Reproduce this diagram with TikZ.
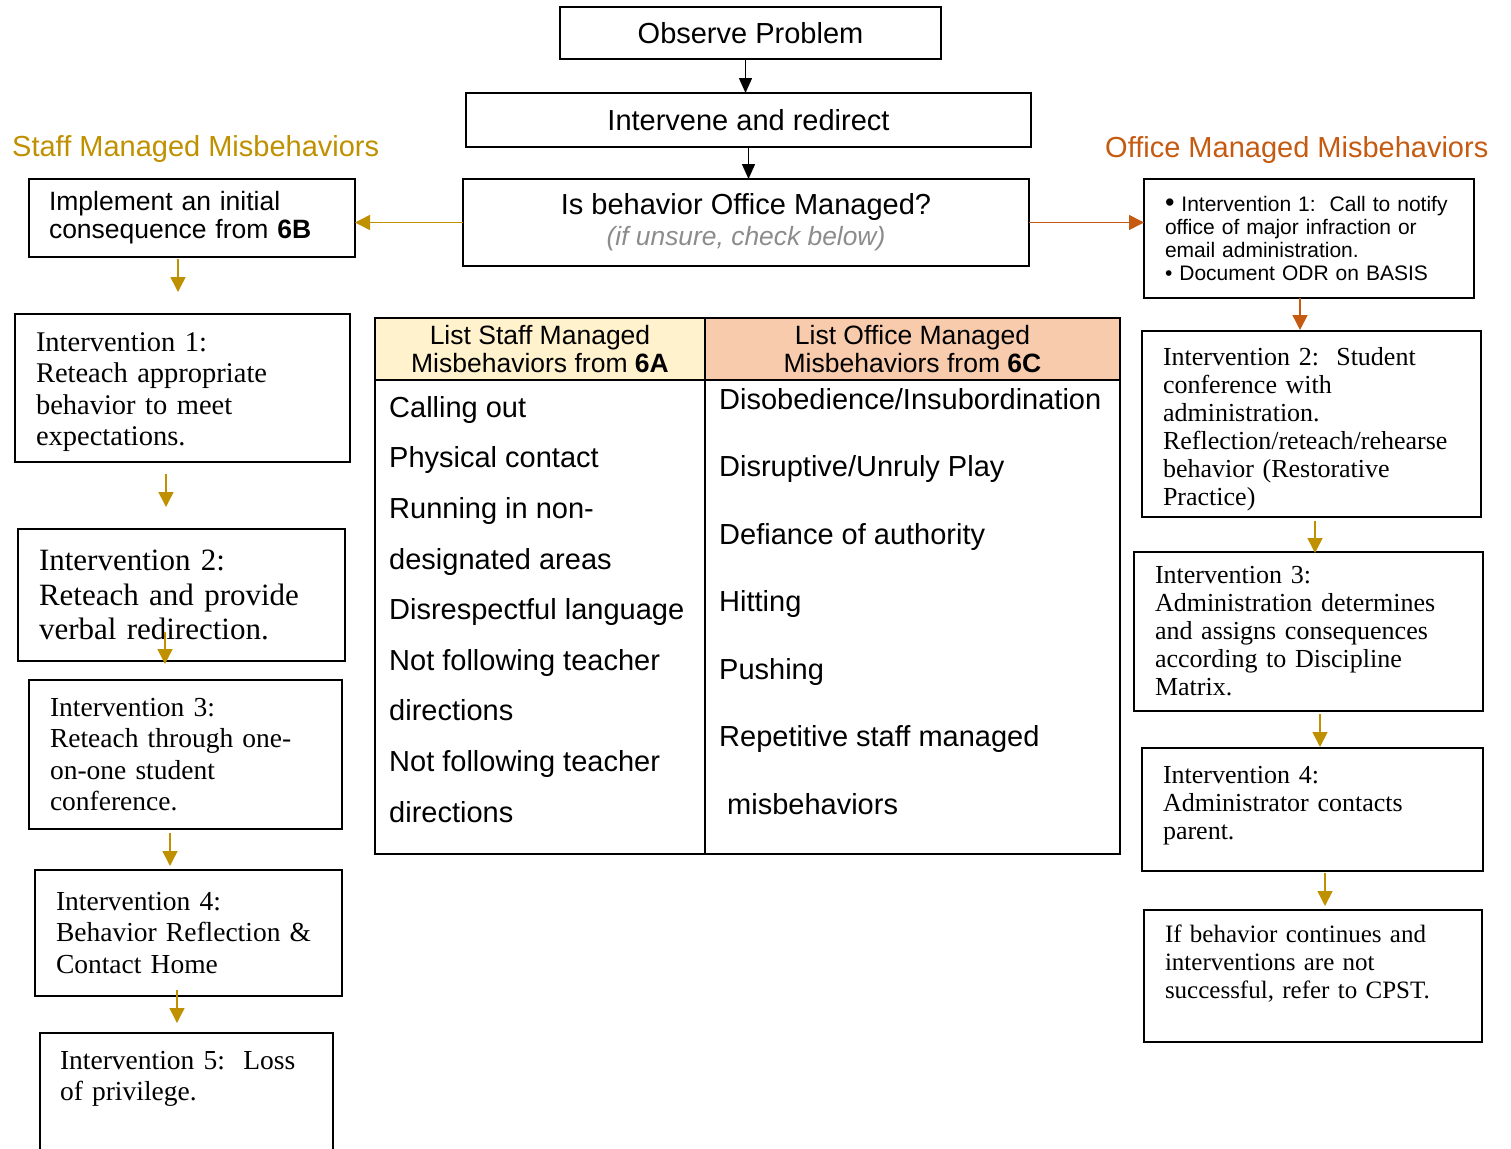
\documentclass[tikz,border=0pt]{standalone}
\usepackage{fontspec}
\setmainfont{Liberation Serif}
\setsansfont{Liberation Sans}
\usepackage{tikz}
\usetikzlibrary{arrows.meta}

\definecolor{staffgold}{HTML}{BF9000}
\definecolor{officeorange}{HTML}{C55A11}
\definecolor{staffhead}{HTML}{FFF2CC}
\definecolor{officehead}{HTML}{F8CBAD}
\definecolor{hintgray}{HTML}{8C8C8C}

\begin{document}
\begin{tikzpicture}[
        x=1pt, y=1pt,
        topbox/.style={draw, line width=1.8pt, anchor=north west, outer sep=0pt, inner sep=0pt, align=center, font=\sffamily\fontsize{29}{32}\selectfont},
        stepbox/.style={draw, line width=1.8pt, anchor=north west, outer sep=0pt, inner xsep=21pt, inner ysep=0pt, align=left},
        leftfont/.style={font=\fontsize{28.5}{31.5}\selectfont},
        narrowfont/.style={font=\fontsize{27.5}{31.5}\selectfont},
        rightfont/.style={font=\fontsize{26}{28}\selectfont},
        cell/.style={draw, line width=1.8pt, anchor=north west, outer sep=0pt, inner sep=0pt},
        headtext/.style={align=center, font=\sffamily\fontsize{26.5}{28}\selectfont},
        itemlist/.style={anchor=north west, inner sep=0pt, align=left},
        heading/.style={anchor=base west, inner sep=0pt, font=\sffamily\fontsize{29}{33}\selectfont},
        blackarrow/.style={-{Triangle[width=13pt,length=15pt]}, line width=1.5pt},
        goldarrow/.style={-{Triangle[width=15pt,length=15pt]}, draw=staffgold, fill=staffgold, line width=1.5pt},
        orangearrow/.style={-{Triangle[width=15pt,length=15pt]}, draw=officeorange, fill=officeorange, line width=1.5pt}
    ]
    \useasboundingbox (0,0) rectangle (1511,-1148);

    % --- Top of the flow ---
    \node[topbox, minimum width=381, minimum height=52] (obs) at (560,-7) {Observe Problem};
    \node[topbox, minimum width=565, minimum height=54] (int) at (466,-93) {Intervene and redirect};
    \node[topbox, minimum width=566, minimum height=87] (ask) at (463,-179)
        {Is behavior Office Managed?\\[-1pt]
         {\fontsize{26.4}{28}\selectfont\itshape\color{hintgray}(if unsure, check below)}};

    \draw[blackarrow] ([xshift=-5pt]obs.south) -- ([xshift=-3pt]int.north);
    \draw[blackarrow] (int.south) -- (int.south |- ask.north);

    % --- Headings ---
    \node[heading, text=staffgold] (staffttl) at (12,-156) {Staff Managed Misbehaviors};
    \node[heading, text=officeorange] (officettl) at (1105,-157) {Office Managed Misbehaviors};

    % --- Staff managed column ---
    \node[stepbox, inner xsep=20pt, text width=286, minimum height=78, font=\sffamily\fontsize{26.5}{28}\selectfont] (impl) at (29,-179)
        {Implement an initial\\consequence from \textbf{6B}};
    \node[stepbox, leftfont, text width=293, minimum height=148] (l1) at (15,-314)
        {\mbox{}\\[-4.8pt]Intervention 1:\\Reteach appropriate\\behavior to meet\\expectations.};
    \node[stepbox, font=\fontsize{31}{34.5}\selectfont, text width=285, minimum height=132] (l2) at (18,-529)
        {Intervention 2:\\Reteach and provide\\verbal redirection.};
    \node[stepbox, narrowfont, text width=271, minimum height=149] (l3) at (29,-680)
        {Intervention 3:\\Reteach through one-\\on-one student\\conference.};
    \node[stepbox, narrowfont, text width=265, minimum height=126] (l4) at (35,-870)
        {Intervention 4:\\Behavior Reflection \&\\Contact Home};
    \node[stepbox, narrowfont, inner xsep=20pt, text width=253, minimum height=117] (l5) at (40,-1033)
        {Intervention 5:\ \ Loss\\of privilege.\\\mbox{}};

    \draw[goldarrow] (ask.west) -- (impl.east |- ask.west);
    \draw[goldarrow] ([xshift=-14pt,yshift=-2pt]impl.south) -- ++(0,-33);
    \draw[goldarrow] ([xshift=-16.5pt,yshift=-12pt]l1.south) -- ++(0,-33);
    \draw[goldarrow] ([xshift=-16.5pt,yshift=29pt]l2.south) -- ++(0,-32);
    \draw[goldarrow] ([xshift=-15.5pt,yshift=-4pt]l3.south) -- ++(0,-33);
    \draw[goldarrow] ([xshift=-11.5pt,yshift=6pt]l4.south) -- ++(0,-33);

    % --- Office managed column ---
    \node[stepbox, text width=288, minimum height=119, font=\sffamily\fontsize{21}{22.7}\selectfont] (o1) at (1144,-179)
        {{\fontsize{27}{22.7}\selectfont\textbullet}\ Intervention 1:\ \ Call to notify\\office of major infraction or\\email administration.\\\textbullet\ Document ODR on BASIS};
    \node[stepbox, rightfont, text width=297, minimum height=186] (o2) at (1142,-331)
        {\mbox{}\\Intervention 2:\ \ Student\\conference with\\administration.\\Reflection/reteach/rehearse\\behavior (Restorative\\Practice)};
    \node[stepbox, rightfont, text width=307, minimum height=159] (o3) at (1134,-552)
        {Intervention 3:\\Administration determines\\and assigns consequences\\according to Discipline\\Matrix.};
    \node[stepbox, rightfont, text width=299, minimum height=123] (o4) at (1142,-748)
        {Intervention 4:\\Administrator contacts\\parent.\\[-14pt]\mbox{}};
    \node[stepbox, font=\fontsize{25}{28}\selectfont, text width=296, minimum height=132] (o5) at (1144,-910)
        {If behavior continues and\\interventions are not\\successful, refer to CPST.\\\mbox{}};

    \draw[orangearrow] (ask.east) -- (o1.west |- ask.east);
    \draw[orangearrow] ([xshift=-9pt]o1.south) -- ++(0,-32);
    \draw[goldarrow] ([xshift=3.5pt,yshift=-4pt]o2.south) -- ++(0,-32);
    \draw[goldarrow] ([xshift=11.5pt,yshift=-3pt]o3.south) -- ++(0,-33);
    \draw[goldarrow] ([xshift=12.5pt,yshift=-2pt]o4.south) -- ++(0,-33);

    % --- Table of misbehaviors ---
    \node[cell, fill=staffhead, minimum width=330, minimum height=62] (stafftop) at (375,-318) {};
    \node[cell, fill=officehead, minimum width=415, minimum height=62] (officetop) at (705,-318) {};
    \node[cell, minimum width=330, minimum height=474] (staffcol) at (375,-380) {};
    \node[cell, minimum width=415, minimum height=474] (officecol) at (705,-380) {};

    \node[headtext] (staffhd) at (stafftop) {List Staff Managed\\Misbehaviors from \textbf{6A}};
    \node[headtext] (officehd) at (officetop) {List Office Managed\\Misbehaviors from \textbf{6C}};

    \node[itemlist, font=\sffamily\fontsize{29}{50.6}\selectfont] (stafflist) at (389,-396)
        {Calling out\\Physical contact\\Running in non-\\designated areas\\Disrespectful language\\Not following teacher\\directions\\Not following teacher\\directions};
    \node[itemlist, font=\sffamily\fontsize{29}{67.5}\selectfont] (officelist) at (719,-388)
        {Disobedience/Insubordination\\Disruptive/Unruly Play\\Defiance of authority\\Hitting\\Pushing\\Repetitive staff managed\\\hspace*{8pt}misbehaviors};

\end{tikzpicture}
\end{document}
